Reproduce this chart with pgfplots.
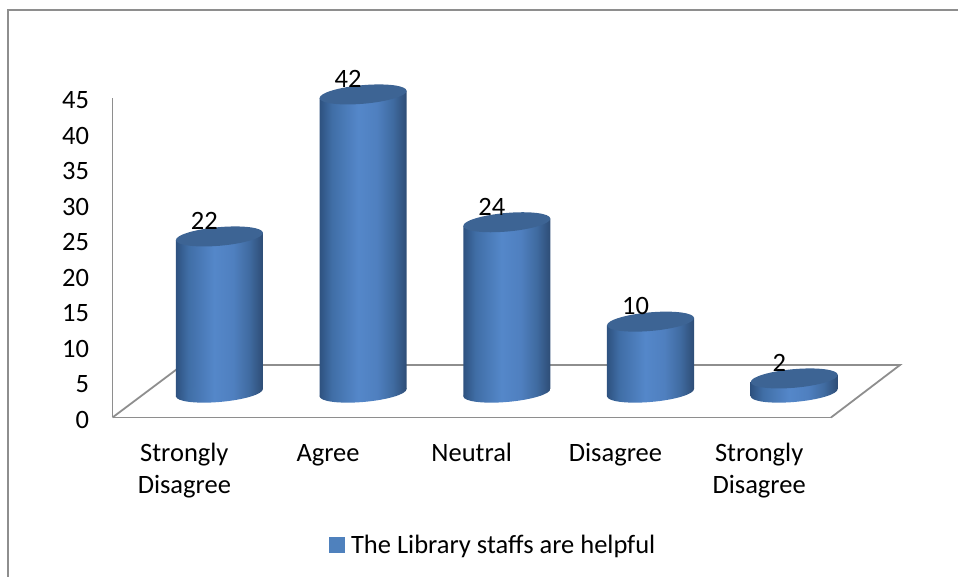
\documentclass[border=0pt]{standalone}
\usepackage{fontspec}
\setmainfont{Carlito}
\usepackage{pgfplots}
\pgfplotsset{compat=1.18}
\definecolor{gridgrey}{HTML}{8E8E8E}
\definecolor{topblue}{HTML}{3D6494}
\definecolor{legblue}{HTML}{4F81BD}
\pgfdeclarehorizontalshading{cyl}{100bp}{
  rgb(0bp)=(0.18,0.32,0.50);
  rgb(25bp)=(0.18,0.32,0.50);
  rgb(32bp)=(0.25,0.43,0.65);
  rgb(47bp)=(0.33,0.53,0.79);
  rgb(58bp)=(0.31,0.50,0.75);
  rgb(67bp)=(0.25,0.42,0.63);
  rgb(75bp)=(0.18,0.30,0.46);
  rgb(100bp)=(0.18,0.30,0.46)}
\pgfdeclareplotmark{cylbase}{%
  \pgfpathellipse{\pgfpointorigin}{\pgfpoint{43.5pt}{3.7pt}}{\pgfpoint{-0.4pt}{9.3pt}}%
  \pgfshadepath{cyl}{0}\pgfusepath{discard}}
\pgfdeclareplotmark{cyltop}{%
  \pgfsetfillcolor{topblue}%
  \pgfpathellipse{\pgfpointorigin}{\pgfpoint{43.5pt}{3.7pt}}{\pgfpoint{-0.4pt}{9.3pt}}%
  \pgfusepathqfill}
\newcommand{\txt}{\fontsize{26.5}{32}\selectfont}
\newcommand{\up}{\rule{0pt}{20pt}}
\begin{document}
\begin{tikzpicture}[x=1pt,y=1pt]
\path[use as bounding box] (0,0) rectangle (958,577);
% outer frame
\draw[gridgrey,line width=2pt] (7.5,0) -- (7.5,567) -- (958,567);
% floor of the 3-D chart
\draw[gridgrey,line width=1.8pt] (112.5,159.5) -- (182.5,212) -- (900,212) -- (831,159.5);
% real axis: ticks and category labels
\begin{axis}[
  at={(112.5pt,159.5pt)},anchor=south west,
  width=718.5pt,height=319.5pt,scale only axis,
  xmin=-0.5,xmax=4.5,ymin=0,ymax=45,
  axis lines=left,
  axis line style={-,gridgrey,line width=1.8pt},
  major tick length=0pt,
  xtick={0,1,2,3,4},
  xticklabels={{\up Strongly\\Disagree},{\up Agree},{\up Neutral},{\up Disagree},{\up Strongly\\Disagree}},
  xticklabel style={align=center,font=\txt,yshift=-20.5pt},
  ytick={0,5,...,45},
  yticklabel style={font=\txt,xshift=-20pt,yshift=-2pt},
  /pgf/number format/assume math mode=true,
]
\addplot[draw=none,forget plot] coordinates {(0,0)};
\end{axis}
% bars: the same scale, displaced into the depth of the floor
\begin{axis}[
  at={(112.5pt,159.5pt)},anchor=south west,
  width=718.5pt,height=319.5pt,scale only axis,
  xmin=-0.744,xmax=4.256,ymin=-3.5,ymax=41.5,
  hide axis,clip=false,
  /pgf/number format/assume math mode=true,
  legend style={at={(0.5296,-0.399)},anchor=center,draw=none,fill=none,font=\txt,
    legend cell align=left,inner sep=0pt},
  legend image code/.code={\fill[legblue] (0pt,-7.5pt) rectangle (15pt,7.5pt);\path (20pt,0pt);},
]
\addplot[only marks,mark=cylbase,forget plot] coordinates {(0,0) (1,0) (2,0) (3,0) (4,0)};
\addplot[draw=none,shade,shading=cyl,shading angle=0,forget plot] coordinates {(-0.303,21.48) (0.303,22.52) (0.303,0.52) (-0.303,-0.52)} -- cycle;
\addplot[draw=none,shade,shading=cyl,shading angle=0,forget plot] coordinates {(0.697,41.48) (1.303,42.52) (1.303,0.52) (0.697,-0.52)} -- cycle;
\addplot[draw=none,shade,shading=cyl,shading angle=0,forget plot] coordinates {(1.697,23.48) (2.303,24.52) (2.303,0.52) (1.697,-0.52)} -- cycle;
\addplot[draw=none,shade,shading=cyl,shading angle=0,forget plot] coordinates {(2.697,9.48) (3.303,10.52) (3.303,0.52) (2.697,-0.52)} -- cycle;
\addplot[draw=none,shade,shading=cyl,shading angle=0,forget plot] coordinates {(3.697,1.48) (4.303,2.52) (4.303,0.52) (3.697,-0.52)} -- cycle;
\addplot[only marks,mark=cyltop,forget plot,
  nodes near coords,
  every node near coord/.style={anchor=center,xshift=-15pt,yshift=15.5pt,font=\txt,text=black,inner sep=0pt},
] coordinates {(0,22) (1,42) (2,24) (3,10) (4,2)};
\addlegendimage{legblue}
\addlegendentry{The Library staffs are helpful}
\end{axis}
\end{tikzpicture}
\end{document}
